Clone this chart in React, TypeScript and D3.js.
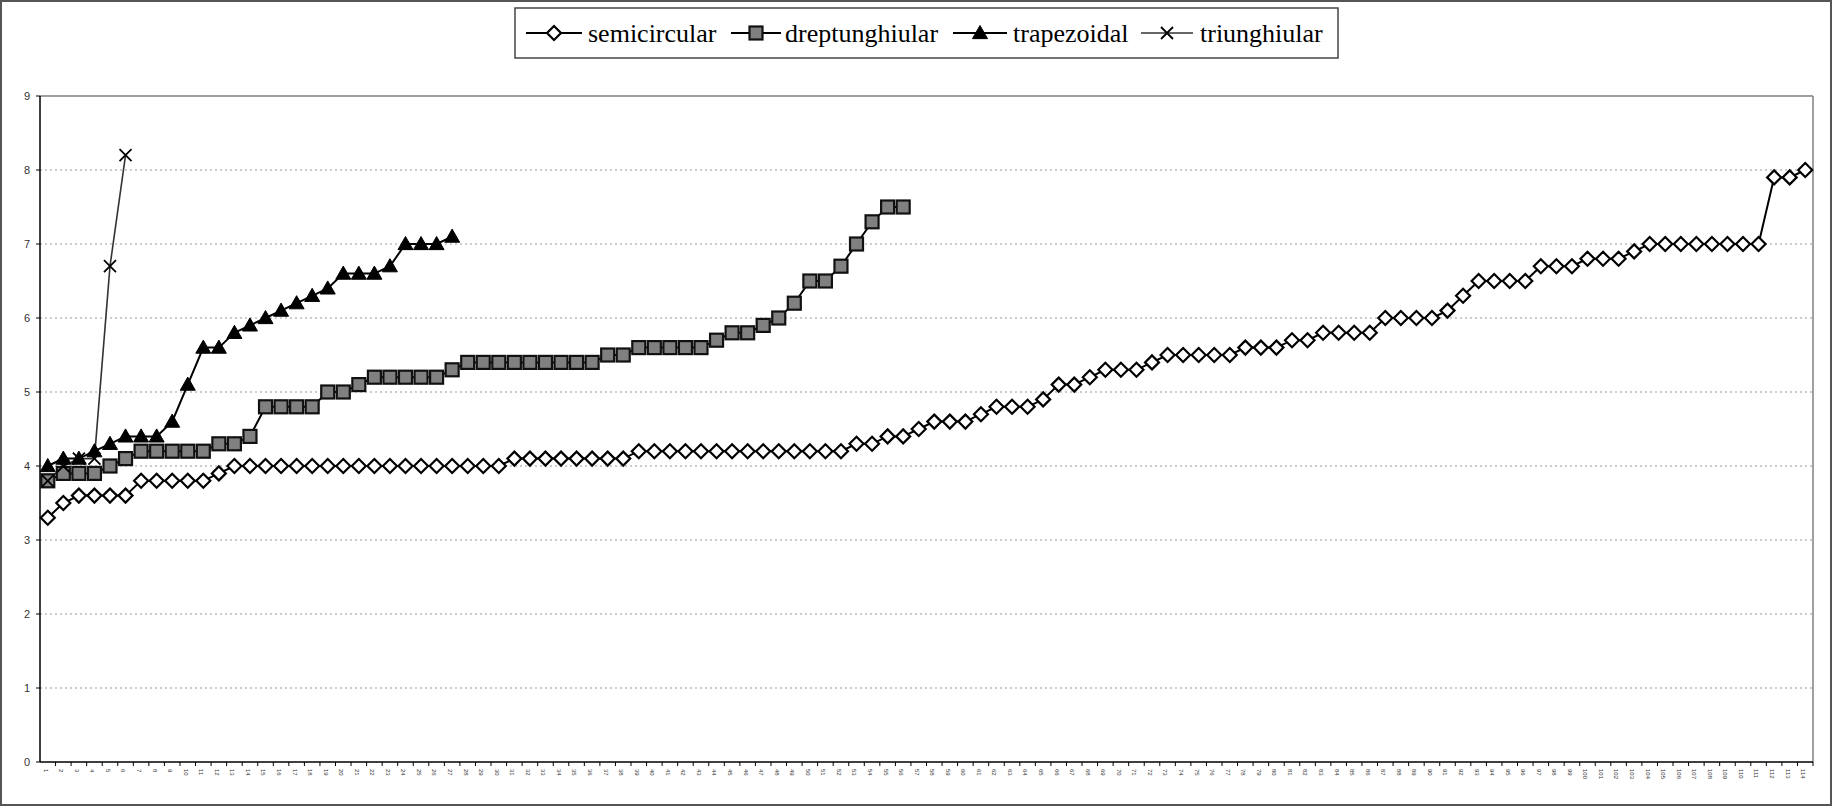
import React from "react";
import * as d3 from "d3";

const categories: string[] = [
  "1","2","3","4","5","6","7","8","9","10","11","12","13","14","15","16","17","18","19","20",
  "21","22","23","24","25","26","27","28","29","30","31","32","33","34","35","36","37","38","39","40",
  "41","42","43","44","45","46","47","48","49","50","51","52","53","54","55","56","57","58","59","60",
  "61","62","63","64","65","66","67","68","69","70","71","72","73","74","75","76","77","78","79","80",
  "81","82","83","84","85","86","87","88","89","90","91","92","93","94","95","96","97","98","99","100",
  "101","102","103","104","105","106","107","108","109","110","111","112","113","114"
];

const semicircular: number[] = [
  3.3, 3.5, 3.6, 3.6, 3.6, 3.6, 3.8, 3.8, 3.8, 3.8,
  3.8, 3.9, 4.0, 4.0, 4.0, 4.0, 4.0, 4.0, 4.0, 4.0,
  4.0, 4.0, 4.0, 4.0, 4.0, 4.0, 4.0, 4.0, 4.0, 4.0,
  4.1, 4.1, 4.1, 4.1, 4.1, 4.1, 4.1, 4.1, 4.2, 4.2,
  4.2, 4.2, 4.2, 4.2, 4.2, 4.2, 4.2, 4.2, 4.2, 4.2,
  4.2, 4.2, 4.3, 4.3, 4.4, 4.4, 4.5, 4.6, 4.6, 4.6,
  4.7, 4.8, 4.8, 4.8, 4.9, 5.1, 5.1, 5.2, 5.3, 5.3,
  5.3, 5.4, 5.5, 5.5, 5.5, 5.5, 5.5, 5.6, 5.6, 5.6,
  5.7, 5.7, 5.8, 5.8, 5.8, 5.8, 6.0, 6.0, 6.0, 6.0,
  6.1, 6.3, 6.5, 6.5, 6.5, 6.5, 6.7, 6.7, 6.7, 6.8,
  6.8, 6.8, 6.9, 7.0, 7.0, 7.0, 7.0, 7.0, 7.0, 7.0,
  7.0, 7.9, 7.9, 8.0
];

const dreptunghiular: number[] = [
  3.8, 3.9, 3.9, 3.9, 4.0, 4.1, 4.2, 4.2, 4.2, 4.2,
  4.2, 4.3, 4.3, 4.4, 4.8, 4.8, 4.8, 4.8, 5.0, 5.0,
  5.1, 5.2, 5.2, 5.2, 5.2, 5.2, 5.3, 5.4, 5.4, 5.4,
  5.4, 5.4, 5.4, 5.4, 5.4, 5.4, 5.5, 5.5, 5.6, 5.6,
  5.6, 5.6, 5.6, 5.7, 5.8, 5.8, 5.9, 6.0, 6.2, 6.5,
  6.5, 6.7, 7.0, 7.3, 7.5, 7.5
];

const trapezoidal: number[] = [
  4.0, 4.1, 4.1, 4.2, 4.3, 4.4, 4.4, 4.4, 4.6, 5.1,
  5.6, 5.6, 5.8, 5.9, 6.0, 6.1, 6.2, 6.3, 6.4, 6.6,
  6.6, 6.6, 6.7, 7.0, 7.0, 7.0, 7.1
];

const triunghiular: number[] = [3.8, 4.0, 4.1, 4.1, 6.7, 8.2];

const yTicks: number[] = [0, 1, 2, 3, 4, 5, 6, 7, 8, 9];

const seriesNames: string[] = ["semicircular", "dreptunghiular", "trapezoidal", "triunghiular"];

const W = 1832;
const H = 806;
const M = { left: 40, right: 1813, top: 96, bottom: 762 };

type MarkerKind = "diamond" | "square" | "triangle" | "x";

function Marker({ kind, cx, cy }: { kind: MarkerKind; cx: number; cy: number }) {
  if (kind === "diamond") {
    const r = 7;
    return (
      <path
        d={`M${cx},${cy - r}L${cx + r},${cy}L${cx},${cy + r}L${cx - r},${cy}Z`}
        fill="#fff"
        stroke="#000"
        strokeWidth={2.2}
      />
    );
  }
  if (kind === "square") {
    const s = 13;
    return (
      <rect x={cx - s / 2} y={cy - s / 2} width={s} height={s} fill="#808080" stroke="#111" strokeWidth={2.2} />
    );
  }
  if (kind === "triangle") {
    const r = 7.5;
    return (
      <path
        d={`M${cx},${cy - r}L${cx + r},${cy + r * 0.75}L${cx - r},${cy + r * 0.75}Z`}
        fill="#000"
        stroke="#000"
        strokeWidth={1}
      />
    );
  }
  const r = 6;
  return (
    <path
      d={`M${cx - r},${cy - r}L${cx + r},${cy + r}M${cx - r},${cy + r}L${cx + r},${cy - r}`}
      stroke="#000"
      strokeWidth={1.8}
      fill="none"
    />
  );
}

export default function App() {
  const x = d3.scaleBand<string>().domain(categories).range([M.left, M.right]).padding(0);
  const bw = x.bandwidth();
  const cx = (i: number) => (x(categories[i]) as number) + bw / 2;
  const y = d3.scaleLinear().domain([0, 9]).range([M.bottom, M.top]);

  const line = d3
    .line<number>()
    .x((_, i) => cx(i))
    .y((d) => y(d));

  const series: { name: string; values: number[]; kind: MarkerKind; stroke: string; sw: number }[] = [
    { name: seriesNames[0], values: semicircular, kind: "diamond", stroke: "#000", sw: 2 },
    { name: seriesNames[1], values: dreptunghiular, kind: "square", stroke: "#000", sw: 2 },
    { name: seriesNames[2], values: trapezoidal, kind: "triangle", stroke: "#000", sw: 2 },
    { name: seriesNames[3], values: triunghiular, kind: "x", stroke: "#333", sw: 1.6 },
  ];

  const legendItems = [
    { x: 526, textX: 588 },
    { x: 731, textX: 785 },
    { x: 953, textX: 1013 },
    { x: 1141, textX: 1200 },
  ];
  const legendLineLen = [56, 50, 54, 52];

  return (
    <svg
      width={W}
      height={H}
      style={{ position: "absolute", left: 0, top: 0, background: "#fff" }}
      xmlns="http://www.w3.org/2000/svg"
    >
      <rect x={0} y={0} width={W} height={H} fill="#fff" />
      <rect x={1} y={1} width={W - 2} height={H - 2} fill="none" stroke="#555" strokeWidth={2} />

      {yTicks
        .filter((t) => t > 0 && t < 9)
        .map((t) => (
          <line
            key={"g" + t}
            x1={M.left}
            x2={M.right}
            y1={y(t)}
            y2={y(t)}
            stroke="#999"
            strokeWidth={1}
            strokeDasharray="2,3"
          />
        ))}

      <line x1={M.left} x2={M.right} y1={M.top} y2={M.top} stroke="#808080" strokeWidth={1.5} />
      <line x1={M.right} x2={M.right} y1={M.top} y2={M.bottom} stroke="#808080" strokeWidth={1.5} />

      <line x1={M.left} x2={M.left} y1={M.top} y2={M.bottom} stroke="#000" strokeWidth={1.5} />
      <line x1={M.left} x2={M.right} y1={M.bottom} y2={M.bottom} stroke="#000" strokeWidth={1.5} />

      {yTicks.map((t) => (
        <g key={"yt" + t}>
          <line x1={M.left - 4} x2={M.left} y1={y(t)} y2={y(t)} stroke="#000" strokeWidth={1} />
          <text
            x={M.left - 10}
            y={y(t)}
            dy="0.35em"
            textAnchor="end"
            fontFamily="Liberation Sans, Arial, sans-serif"
            fontSize={11}
            fill="#333"
          >
            {t}
          </text>
        </g>
      ))}

      {categories.map((c, i) => (
        <g key={"xt" + c}>
          <line
            x1={(x(c) as number) + bw}
            x2={(x(c) as number) + bw}
            y1={M.bottom}
            y2={M.bottom + 4}
            stroke="#000"
            strokeWidth={1}
          />
          <text
            transform={`translate(${cx(i) - 2},${M.bottom + 7}) rotate(90)`}
            dy="0.35em"
            textAnchor="start"
            fontFamily="Liberation Sans, Arial, sans-serif"
            fontSize={6}
            fill="#333"
          >
            {c}
          </text>
        </g>
      ))}

      {series.map((s) => (
        <path key={"l" + s.name} d={line(s.values) || ""} fill="none" stroke={s.stroke} strokeWidth={s.sw} />
      ))}

      {series.map((s) => (
        <g key={"m" + s.name}>
          {s.values.map((v, i) => (
            <Marker key={i} kind={s.kind} cx={cx(i)} cy={y(v)} />
          ))}
        </g>
      ))}

      <rect x={515} y={8} width={823} height={50} fill="#fff" stroke="#444" strokeWidth={1.5} />
      {series.map((s, i) => {
        const it = legendItems[i];
        const len = legendLineLen[i];
        const my = 33;
        return (
          <g key={"lg" + s.name}>
            <line x1={it.x} x2={it.x + len} y1={my} y2={my} stroke={s.stroke} strokeWidth={s.sw} />
            <Marker kind={s.kind} cx={it.x + len / 2} cy={my} />
            <text
              x={it.textX}
              y={my}
              dy="0.35em"
              fontFamily="Liberation Serif, Times New Roman, serif"
              fontSize={26}
              fill="#000"
            >
              {s.name}
            </text>
          </g>
        );
      })}
    </svg>
  );
}
